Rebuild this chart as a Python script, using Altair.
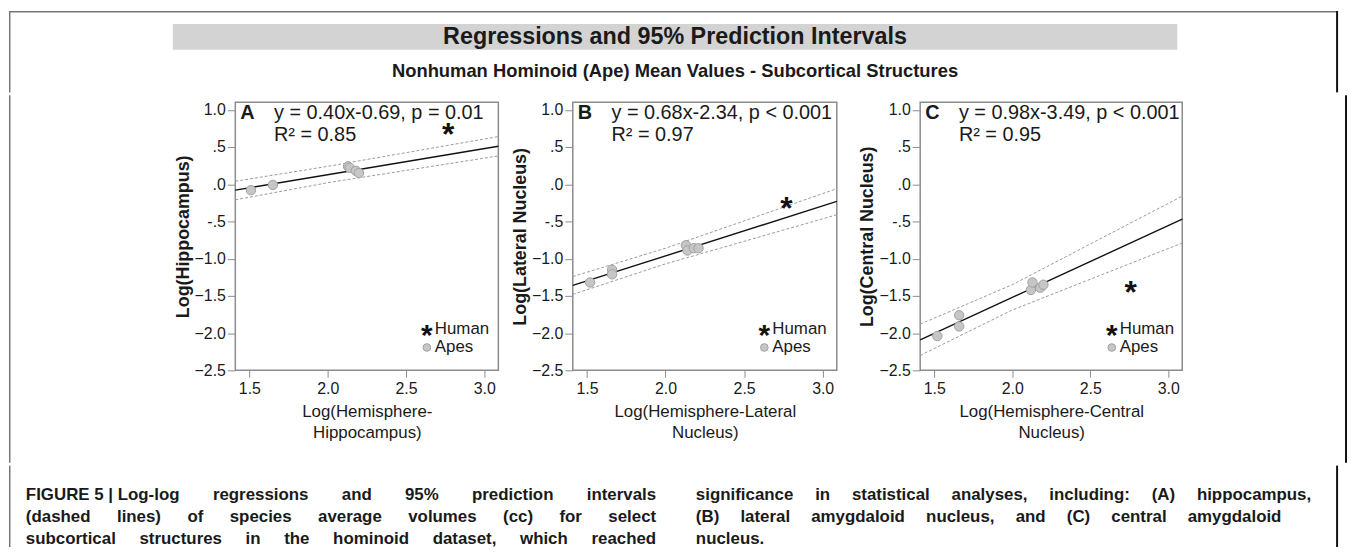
import altair as alt
import pandas as pd

# ---------------- data ----------------
panel_letters = ["A", "B", "C"]
equations = ["y = 0.40x-0.69, p = 0.01", "y = 0.68x-2.34, p < 0.001", "y = 0.98x-3.49, p < 0.001"]
r_squared = ["R\u00b2 = 0.85", "R\u00b2 = 0.97", "R\u00b2 = 0.95"]
y_titles = ["Log(Hippocampus)", "Log(Lateral Nucleus)", "Log(Central Nucleus)"]
x_titles = [["Log(Hemisphere-", "Hippocampus)"],
            ["Log(Hemisphere-Lateral", "Nucleus)"],
            ["Log(Hemisphere-Central", "Nucleus)"]]
x_ticks = [1.5, 2.0, 2.5, 3.0]
y_ticks = [1.0, 0.5, 0.0, -0.5, -1.0, -1.5, -2.0, -2.5]

ape_x_a = [1.51, 1.65, 2.13, 2.14, 2.18, 2.20]
ape_y_a = [-0.08, -0.01, 0.24, 0.22, 0.18, 0.15]
ape_x_b = [1.52, 1.66, 1.66, 2.13, 2.14, 2.18, 2.21]
ape_y_b = [-1.32, -1.15, -1.21, -0.82, -0.89, -0.86, -0.86]
ape_x_c = [1.52, 1.66, 1.66, 2.12, 2.13, 2.18, 2.20]
ape_y_c = [-2.04, -1.76, -1.91, -1.42, -1.32, -1.39, -1.35]

human_x = [2.77, 2.77, 2.76]
human_y = [0.73, -0.27, -1.40]

fit_x = [1.41, 3.09]
fit_y_a = [-0.08, 0.51]
fit_y_b = [-1.36, -0.23]
fit_y_c = [-2.09, -0.47]

pi_x = [1.41, 2.0, 3.09]
pi_hi_a = [0.04, 0.24, 0.64]
pi_lo_a = [-0.21, 0.02, 0.38]
pi_hi_b = [-1.24, -0.86, -0.06]
pi_lo_b = [-1.48, -1.07, -0.41]
pi_hi_c = [-1.88, -1.35, -0.16]
pi_lo_c = [-2.30, -1.69, -0.79]

legend_labels = ["Human", "Apes"]
title_main = "Regressions and 95% Prediction Intervals"
title_sub = "Nonhuman Hominoid (Ape) Mean Values - Subcortical Structures"
caption_left = ["FIGURE\u00a05\u00a0|\u00a0Log-log regressions and 95% prediction intervals",
                "(dashed lines) of species average volumes (cc) for select",
                "subcortical structures in the hominoid dataset, which reached"]
caption_right = ["significance in statistical analyses, including: (A) hippocampus,",
                 "(B) lateral amygdaloid nucleus, and (C) central amygdaloid",
                 "nucleus."]

# ---------------- styling ----------------
FONT = "Liberation Sans"
INK = "#1a1a1a"
FRAME = "#8c8c8c"
TOTAL_W = 1339      # whole figure width (fits the window without scrollbars)
OX = 228            # chart x of panel A's plot origin (header/caption are relative to it)
LEFT = -OX
RIGHT = TOTAL_W - OX
C_LEFT = 917 - 236  # panel C origin relative to panel A origin
CAP_H = 82

one = pd.DataFrame({"k": [0]})


def txt(s, x, y, size, weight="normal", align="left", baseline="middle"):
    return alt.Chart(pd.DataFrame({"t": [s]})).mark_text(
        align=align, baseline=baseline, font=FONT, fontSize=size,
        fontWeight=weight, color=INK
    ).encode(text="t:N", x=alt.value(x), y=alt.value(y))


def vrule(x, y1, y2, color, sw, op=1.0):
    return alt.Chart(one).mark_rule(color=color, strokeWidth=sw, strokeOpacity=op).encode(
        x=alt.value(x), y=alt.value(y1), y2=alt.value(y2))


def make_panel(i, ax, ay, fy, hi, lo, width, left_x, left_visible, right_x=None):
    xs = alt.Scale(domain=[1.41, 3.09], nice=False, zero=False)
    ys = alt.Scale(domain=[-2.5, 1.1], nice=False, zero=False)
    xax = alt.Axis(values=x_ticks, format=".1f", title=x_titles[i], grid=False, domain=False,
                   labelFont=FONT, labelFontSize=16, labelColor=INK, labelPadding=3,
                   tickColor=FRAME, tickSize=7, titleFont=FONT, titleFontSize=17,
                   titleFontWeight="normal", titleColor=INK, titlePadding=8, titleLineHeight=21)
    yax = alt.Axis(values=y_ticks, grid=False, domain=False,
                   labelExpr="datum.value == 0.5 ? '.5' : datum.value == 0 ? '.0' : datum.value == -0.5 ? '-.5' : format(datum.value, '.1f')",
                   labelFont=FONT, labelFontSize=16, labelColor=INK, labelPadding=2,
                   tickColor=FRAME, tickSize=8, title=y_titles[i], titleFont=FONT,
                   titleFontSize=18, titleFontWeight="bold", titleColor=INK, titlePadding=2)
    X = alt.X("x:Q", scale=xs, axis=xax)
    Y = alt.Y("y:Q", scale=ys, axis=yax)

    band_df = pd.DataFrame({"x": pi_x + pi_x, "y": hi + lo,
                            "band": ["upper"] * len(pi_x) + ["lower"] * len(pi_x)})
    bands = alt.Chart(band_df).mark_line(color="#9a9a9a", strokeWidth=1, strokeDash=[3, 2]).encode(
        x=X, y=Y, detail="band:N")
    fit = alt.Chart(pd.DataFrame({"x": fit_x, "y": fy})).mark_line(
        color="#111111", strokeWidth=1.4).encode(x=X, y=Y)
    apes = alt.Chart(pd.DataFrame({"x": ax, "y": ay})).mark_point(
        filled=True, shape="circle", size=90, fill="#c6c6c6", stroke="#a0a0a0",
        strokeWidth=1, opacity=1).encode(x=X, y=Y)
    human = alt.Chart(pd.DataFrame({"x": [human_x[i]], "y": [human_y[i]]})).mark_text(
        text="*", font=FONT, fontWeight="bold", fontSize=32, baseline="alphabetic",
        dy=15, color="#111111").encode(x=X, y=Y)

    layers = [bands, fit, apes, human,
              txt(panel_letters[i], 5, 11, 20, "bold"),
              txt(equations[i], 39, 11, 20),
              txt(r_squared[i], 39, 33, 20),
              alt.Chart(one).mark_text(text="*", font=FONT, fontWeight="bold", fontSize=30,
                                       baseline="alphabetic", dy=15, color="#111111").encode(
                  x=alt.value(193), y=alt.value(229)),
              txt(legend_labels[0], 201, 228, 17),
              alt.Chart(one).mark_point(filled=True, shape="circle", size=60, fill="#c6c6c6",
                                        stroke="#a0a0a0", strokeWidth=1, opacity=1).encode(
                  x=alt.value(193), y=alt.value(247)),
              txt(legend_labels[1], 201, 247, 17),
              vrule(left_x, -7, 363, "#777777", 1.5, 1.0 if left_visible else 0.0)]
    if right_x is not None:
        layers.append(vrule(right_x, -7, 363, "#111111", 2))
    return alt.layer(*layers).properties(width=width, height=270)


panel_a = make_panel(0, ape_x_a, ape_y_a, fit_y_a, pi_hi_a, pi_lo_a, 265, LEFT + 0.75, True)
panel_b = make_panel(1, ape_x_b, ape_y_b, fit_y_b, pi_hi_b, pi_lo_b, 266, -70, False)
panel_c = make_panel(2, ape_x_c, ape_y_c, fit_y_c, pi_hi_c, pi_lo_c, 264, -79, False,
                     right_x=RIGHT - C_LEFT - 1)
panels = alt.hconcat(panel_a, panel_b, panel_c, spacing=0)

# ---------------- header ----------------
header = alt.layer(
    alt.Chart(one).mark_rect(color="#d3d3d3").encode(
        x=alt.value(173 - 236), x2=alt.value(1185 - 236), y=alt.value(13), y2=alt.value(39)),
    alt.Chart(one).mark_rule(color="#777777", strokeWidth=1.5).encode(
        x=alt.value(LEFT), x2=alt.value(RIGHT - 1), y=alt.value(0.75)),
    vrule(LEFT + 0.75, 0, 82, "#777777", 1.5),
    vrule(RIGHT - 1, 0, 82, "#111111", 2),
    txt(title_main, 679 - 236, 26, 23.5, "bold", "center"),
    txt(title_sub, 679 - 236, 60, 18.5, "bold", "center"),
).properties(width=RIGHT - 1, height=82, view=alt.ViewBackground(strokeOpacity=0))

# ---------------- caption (justified text) ----------------
AB = {" ": 278, "\u00a0": 278, "(": 333, ")": 333, ",": 278, "-": 333, ".": 278, ":": 333,
      "|": 280, "%": 889, "A": 722, "B": 722, "C": 722, "E": 667, "F": 611, "G": 778,
      "I": 278, "L": 611, "R": 722, "U": 722, "a": 556, "b": 611, "c": 556, "d": 611,
      "e": 556, "f": 333, "g": 611, "h": 611, "i": 278, "j": 278, "k": 556, "l": 278,
      "m": 889, "n": 611, "o": 611, "p": 611, "q": 611, "r": 389, "s": 556, "t": 333,
      "u": 611, "v": 556, "w": 778, "x": 556, "y": 556, "z": 500}
CAP_SIZE = 17


def tw(s):
    return sum(AB.get(ch, 556) for ch in s) * CAP_SIZE / 1000.0


def line_words(line, x0, x1, y, justify):
    words = line.split(" ")
    out = []
    if justify and len(words) > 1:
        total = sum(tw(w) for w in words)
        gap = max((x1 - x0 - total) / (len(words) - 1), tw(" "))
    else:
        gap = tw(" ")
    x = x0
    for w in words:
        out.append({"w": w, "x": x, "y": y})
        x += tw(w) + gap
    return out


cap_rows = []
line_y = [30, 52, 74]
for k, ln in enumerate(caption_left):
    cap_rows += line_words(ln, 25 - 236, 660 - 236, line_y[k], True)
right_ends = [1320 - 236, 1290 - 236, None]
for k, ln in enumerate(caption_right):
    cap_rows += line_words(ln, 700 - 236, right_ends[k] or 0, line_y[k], right_ends[k] is not None)
cap_df = pd.DataFrame(cap_rows)

caption = alt.layer(
    alt.Chart(cap_df).mark_text(align="left", baseline="middle", font=FONT, fontSize=CAP_SIZE,
                                fontWeight="bold", color=INK).encode(
        x=alt.X("x:Q", scale=alt.Scale(domain=[0, RIGHT], range=[0, RIGHT]), axis=None),
        y=alt.Y("y:Q", scale=alt.Scale(domain=[0, CAP_H], range=[0, CAP_H]), axis=None),
        text="w:N"),
    vrule(LEFT + 0.75, 0, CAP_H, "#777777", 1.5),
    vrule(RIGHT - 1, 0, CAP_H, "#111111", 2),
).properties(width=RIGHT - 1, height=CAP_H, view=alt.ViewBackground(strokeOpacity=0))

chart = alt.vconcat(header, panels, caption, spacing=0).properties(padding=0).configure_view(
    stroke=FRAME, strokeWidth=1.5).configure_concat(spacing=0)

chart.save("out.html", embed_options={"renderer": "svg", "actions": False})
